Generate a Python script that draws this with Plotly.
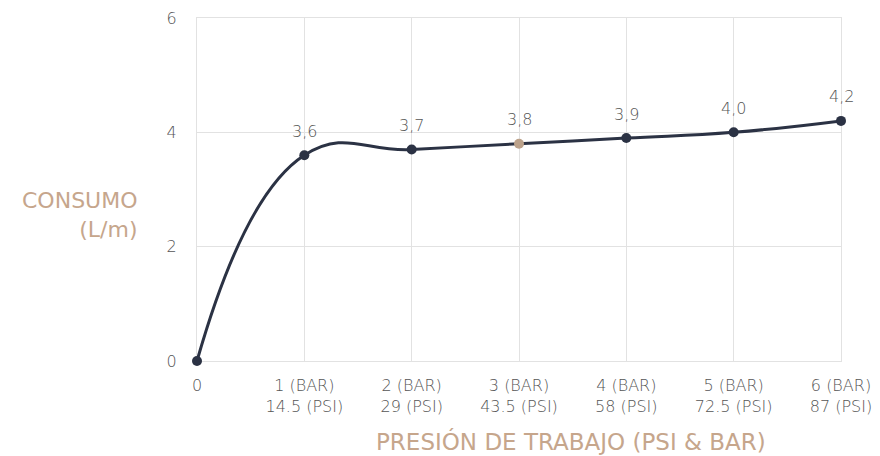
import plotly.graph_objects as go

x_vals = [0, 1, 2, 3, 4, 5, 6]
consumo = [0, 3.6, 3.7, 3.8, 3.9, 4.0, 4.2]
point_labels = ["", "3,6", "3,7", "3,8", "3,9", "4,0", "4,2"]
x_tick_labels = ["0", "1 (BAR)<br>14.5 (PSI)", "2 (BAR)<br>29 (PSI)", "3 (BAR)<br>43.5 (PSI)",
                 "4 (BAR)<br>58 (PSI)", "5 (BAR)<br>72.5 (PSI)", "6 (BAR)<br>87 (PSI)"]
y_ticks = [0, 2, 4, 6]

LINE = "#2b3244"
TAN = "#c6a68c"
TXT = "#555555"
GRID = "#e2e2e2"
marker_colors = [LINE, LINE, LINE, "#bca28b", LINE, LINE, LINE]

FONT = "DejaVu Sans"

fig = go.Figure()
fig.add_trace(go.Scatter(
    x=x_vals, y=consumo, mode="lines+markers",
    line=dict(color=LINE, width=3, shape="spline", smoothing=1.3),
    marker=dict(size=10, color=marker_colors),
    cliponaxis=False, hoverinfo="skip", showlegend=False,
))

annotations = []
for xv, yv, lab in zip(x_vals, consumo, point_labels):
    if lab:
        annotations.append(dict(x=xv, y=yv, xref="x", yref="y", text=lab, showarrow=False,
                                yshift=24, xanchor="center", yanchor="middle",
                                font=dict(family=FONT, size=16, color=TXT, weight=300)))

annotations += [
    dict(text="CONSUMO<br>(L/m)", xref="paper", yref="paper",
         x=-0.089, y=0.425, xanchor="right", yanchor="middle", align="right",
         showarrow=False, font=dict(family=FONT, size=22, color=TAN)),
    dict(text="PRESIÓN DE TRABAJO (PSI & BAR)", xref="paper", yref="paper",
         x=0.58, y=-0.236, xanchor="center", yanchor="middle",
         showarrow=False, font=dict(family=FONT, size=23, color=TAN)),
]

fig.update_layout(
    width=872, height=448,
    margin=dict(l=189, r=39, t=10, b=95, autoexpand=False),
    paper_bgcolor="white", plot_bgcolor="white",
    font=dict(family=FONT, color=TXT, size=15),
    xaxis=dict(range=[0, 6], tickvals=x_vals, ticktext=x_tick_labels,
               showgrid=True, gridcolor=GRID, gridwidth=1,
               showline=True, linecolor=GRID, linewidth=1, mirror=True,
               zeroline=False, ticks="", automargin=False, layer="below traces",
               ticklabelstandoff=10,
               tickfont=dict(family=FONT, size=16, color=TXT, weight=300)),
    yaxis=dict(range=[0, 6], tickvals=y_ticks,
               showgrid=True, gridcolor=GRID, gridwidth=1,
               showline=True, linecolor=GRID, linewidth=1, mirror=True,
               zeroline=False, ticks="", automargin=False, layer="below traces",
               ticklabelstandoff=16,
               tickfont=dict(family=FONT, size=16, color=TXT, weight=300)),
    annotations=annotations,
)

fig.write_html("out.html")
